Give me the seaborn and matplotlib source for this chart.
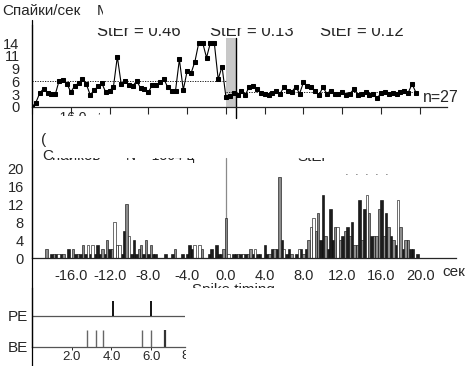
import numpy as np
import pandas as pd
import matplotlib
matplotlib.use('Agg')
import matplotlib.pyplot as plt
from matplotlib.lines import Line2D
from matplotlib.ticker import FixedLocator, FormatStrFormatter
from matplotlib.transforms import Bbox, blended_transform_factory
import seaborn as sns

sns.set_style('ticks')
plt.rcParams['font.family'] = ['Liberation Sans', 'DejaVu Sans']
plt.rcParams['axes.linewidth'] = 0.9

# firing rate, 0.4 s bins, 50 before and 50 after stimulus
rate_pre = [0, 1.0, 3.1, 4.1, 3.1, 2.9, 2.8, 5.9, 6.1, 5.2, 3.3, 4.7, 5.3, 6.2, 5.1,
            2.7, 3.7, 4.6, 5.3, 3.3, 3.6, 4.5, 11.2, 5.1, 5.9, 4.9, 4.7, 5.8, 4.2, 3.9,
            3.3, 4.9, 4.9, 5.5, 6.2, 4.4, 3.6, 3.6, 10.6, 3.8, 8.0, 7.5, 10.1, 14.3, 14.3,
            11.0, 14.3, 14.3, 6.2, 9.0]
rate_post = [2.2, 2.4, 3.1, 2.7, 3.6, 2.7, 4.5, 4.7, 4.0, 3.2, 2.8, 2.6, 3.2, 3.6, 3.0,
             4.5, 3.6, 3.4, 4.5, 3.0, 5.5, 4.7, 4.5, 3.6, 2.7, 4.4, 3.0, 3.6, 3.0, 2.9,
             3.4, 2.7, 3.0, 4.0, 2.7, 2.8, 3.4, 2.7, 2.9, 1.9, 3.2, 3.4, 2.9, 3.2, 3.0,
             3.4, 3.6, 3.2, 5.1, 3.2]
t_pre = np.round(np.arange(-20, 0, 0.4), 1)
t_post = np.round(np.arange(0, 20, 0.4), 1)
rate_ticks = [0, 2.85, 5.7, 8.55, 11.4, 14.25]
ster_labels = ['StEr = 0.46', 'StEr = 0.13', 'StEr = 0.12']
n_label = 'n=27'

# spike-timing histogram, 0.25 s bins, three groups
black_t = [-18.0, -17.5, -17.0, -16.25, -15.5, -15.0, -14.5, -14.0, -13.5, -13.25, -13.0,
           -12.5, -12.0, -10.75, -10.5, -9.75, -9.5, -9.25, -8.5, -8.0, -7.5, -7.25, -6.25,
           -5.5, -4.5, -4.0, -3.75, -3.5, -1.75, -1.5, -1.0, -0.75, -0.5,
           0.75, 1.0, 1.5, 2.0, 2.75, 3.25, 3.5, 4.0, 4.25, 4.75, 5.25, 5.75, 6.25, 6.5,
           7.25, 7.75, 8.25, 9.75, 10.0, 10.5, 10.75, 11.0, 12.0, 12.5, 13.0, 13.75, 14.25,
           15.0, 16.0, 16.5, 17.0, 17.5, 18.25, 19.0, 19.25, 19.75]
black_n = [1, 1, 1, 2, 1, 1, 1, 1, 1, 3, 1,
           1, 2, 1, 6, 1, 4, 1, 1, 1, 1, 1, 1,
           1, 1, 1, 3, 2, 1, 2, 3, 1, 1,
           1, 1, 1, 1, 1, 1, 1, 3, 1, 2, 2, 4, 1, 2,
           1, 2, 2, 4, 14, 2, 11, 4, 5, 7, 8, 13, 11,
           5, 13, 10, 5, 3, 2, 2, 2, 1]
gray_t = [-18.5, -17.75, -16.75, -15.75, -15.25, -14.75, -12.75, -12.25, -11.75, -10.25,
          -9.0, -8.75, -8.25, -7.75, -5.25, -2.5, -0.25, 0.0,
          1.25, 2.25, 2.5, 4.5, 5.0, 5.5, 6.75, 8.0, 8.5, 9.25, 9.5, 10.25, 11.25, 11.75,
          12.25, 12.75, 13.25, 13.5, 14.0, 14.75, 15.25, 15.5, 15.75, 16.25, 16.75, 17.25,
          18.0, 18.5, 18.75]
gray_n = [2, 1, 1, 2, 1, 3, 2, 4, 2, 12,
          2, 3, 4, 3, 2, 2, 2, 9,
          1, 1, 2, 1, 2, 18, 1, 1, 4, 6, 10, 5, 7, 4,
          6, 5, 3, 3, 4, 10, 5, 5, 11, 5, 7, 4,
          7, 4, 4]
white_t = [-17.25, -14.25, -13.75, -11.5, -11.25, -11.0, -10.0, -3.25, -2.75, 0.25, 1.75,
           3.0, 6.0, 7.5, 8.75, 9.0, 11.5, 14.5, 17.75]
white_n = [1, 3, 3, 8, 3, 3, 5, 3, 3, 1, 1,
           2, 2, 2, 7, 9, 7, 14, 13]

# PE / BE events
pe_times = [4.1, 6.0]
be_times = [2.75, 3.2, 3.55, 5.55, 6.0, 6.7]

W, H = 466, 366
fig = plt.figure(figsize=(W / 100, H / 100), dpi=100)


def px_rect(x0, y0, x1, y1):
    return [x0 / W, 1 - y1 / H, (x1 - x0) / W, (y1 - y0) / H]


def ghost(x, y, s, box, transform=None, **kw):
    # text that is only partly visible (clipped to a pixel window)
    if transform is None:
        t = fig.text(x / W, 1 - y / H, s, **kw)
    else:
        t = fig.text(x, 1 - y / H, s, transform=transform, **kw)
    x0, y0, x1, y1 = box
    t.set_clip_box(Bbox.from_extents(x0, H - y1, x1, H - y0))
    t.set_clip_on(True)
    return t


# ---- top: rate ----
ax = fig.add_axes(px_rect(32, 25, 447, 107))
ax.axvspan(0, 1.0, ymin=0, ymax=0.843, color='#c8c8c8', lw=0, zorder=0)
ax.axvline(1.0, ymin=-0.13, ymax=0.843, color='black', lw=1.0, clip_on=False)
sns.lineplot(x=np.concatenate([t_pre, t_post]), y=rate_pre + rate_post, ax=ax,
             color='black', lw=0.8, marker='s', markersize=3, markeredgecolor='black')
ax.hlines(np.mean(rate_pre), -20, 0, colors='black', linestyles=(0, (1.5, 1.5)), lw=0.6)
ax.hlines(np.mean(rate_post), 0, t_post[-1], colors='black', linestyles=(0, (1.5, 1.5)), lw=0.6)
ax.set_xlim(-20, 22.8)
ax.set_ylim(0, 18.26)
ax.xaxis.set_major_locator(FixedLocator(np.arange(-20, 21, 4)))
ax.set_xticklabels([])
ax.tick_params(axis='x', length=5, width=0.8, direction='out')
ax.yaxis.set_major_locator(FixedLocator(rate_ticks))
ax.set_yticklabels([str(int(round(v))) for v in rate_ticks])
ax.tick_params(axis='y', length=0, pad=9, labelsize=10.5)
ax.set_xlabel('')
ax.set_ylabel('')
sns.despine(ax=ax)

tr_top = blended_transform_factory(ax.transData, fig.transFigure)
for xv in [-16, -12]:
    ghost(xv, 111, '%.1f' % xv, (53, 100, 100, 116), transform=tr_top,
          ha='center', va='top', fontsize=10)
for x0, s in zip([97, 210, 320], ster_labels):
    ghost(x0, 36, s, (0, 28, W, 40), ha='left', va='baseline', fontsize=12)
fig.text(423 / W, 1 - 97 / H, n_label, ha='left', va='center', fontsize=11.5)
fig.text(2 / W, 1 - 11 / H, 'Спайки/сек', ha='left', va='center', fontsize=11)
ghost(97, 11, 'M', (90, 0, 103, 30), ha='left', va='center', fontsize=11)

# ---- middle: histogram ----
ax2 = fig.add_axes(px_rect(32, 150, 456, 258))
hist_df = pd.concat([
    pd.DataFrame({'t': black_t, 'n': black_n, 'grp': 'black'}),
    pd.DataFrame({'t': gray_t, 'n': gray_n, 'grp': 'gray'}),
    pd.DataFrame({'t': white_t, 'n': white_n, 'grp': 'white'}),
])
ax2.axvline(0, ymin=0, ymax=0.926, color='#8a8a8a', lw=0.9, zorder=0)
sns.histplot(data=hist_df, x='t', weights='n', hue='grp',
             hue_order=['white', 'gray', 'black'],
             palette={'black': '#1c1c1c', 'gray': '#8c8c8c', 'white': 'white'},
             binwidth=0.25, binrange=(-20.125, 20.125), multiple='layer',
             alpha=1, edgecolor='black', linewidth=0.4, legend=False, ax=ax2)
ax2.set_xlim(-20, 23.7)
ax2.set_ylim(0, 24)
ax2.set_xticks(np.arange(-16, 21, 4))
ax2.xaxis.set_major_formatter(FormatStrFormatter('%.1f'))
ax2.set_yticks(np.arange(0, 21, 4))
ax2.tick_params(axis='x', length=0, pad=8, labelsize=10.5)
ax2.tick_params(axis='y', length=0, pad=6, labelsize=10.5)
ax2.set_xlabel('')
ax2.set_ylabel('')
sns.despine(ax=ax2)
fig.text(442 / W, 1 - 272 / H, 'сек', ha='left', va='center', fontsize=11)
ghost(233, 283, 'Spike timing', (0, 270, W, 288), ha='center', va='top', fontsize=11)
fig.text(41 / W, 1 - 140 / H, '(', ha='left', va='center', fontsize=11)
fig.text(42 / W, 1 - 160 / H, 'С', ha='left', va='baseline', fontsize=11)
ghost(52, 160, 'пайков', (51, 158, 105, 165), ha='left', va='baseline', fontsize=11)
ghost(126, 160, 'N = 1364 ц', (120, 158, 200, 165), ha='left', va='baseline', fontsize=10)
ghost(297, 161, 'StEr', (290, 158, 330, 162), ha='left', va='baseline', fontsize=11)
fig.text(345 / W, 1 - 175 / H, '·  ·  ·  ·  ·', ha='left', va='center', fontsize=8)

# ---- bottom: PE / BE events ----
ax3 = fig.add_axes(px_rect(32, 288, 185, 347))
ax3.axhline(1, color='#555555', lw=0.9)
ax3.vlines(pe_times, 1, 1.48, colors='black', lw=1.3)
ax3.vlines(be_times[:-1], 0, 0.55, colors='#666666', lw=1.0)
ax3.vlines(be_times[-1:], 0, 0.55, colors='#333333', lw=1.6)
ax3.set_xlim(0, 7.7)
ax3.set_ylim(0, 1.9)
ax3.set_xticks([2, 4, 6])
ax3.xaxis.set_major_formatter(FormatStrFormatter('%.1f'))
ax3.set_yticks([1, 0])
ax3.set_yticklabels(['PE', 'BE'])
ax3.tick_params(axis='x', length=2, width=0.7, pad=1, labelsize=9.5)
ax3.tick_params(axis='y', length=0, pad=3, labelsize=11)
ax3.spines['bottom'].set_color('#555555')
sns.despine(ax=ax3)
tr_bot = blended_transform_factory(ax3.transData, fig.transFigure)
ghost(8, 350, '8.0', (0, 340, 186, H), transform=tr_bot, ha='center', va='top', fontsize=9.5)

# long left axis line shared by all panels
fig.add_artist(Line2D([32 / W, 32 / W], [0, 1 - 20 / H], transform=fig.transFigure,
                      color='black', lw=0.9))

fig.savefig('out.png', dpi=100)
